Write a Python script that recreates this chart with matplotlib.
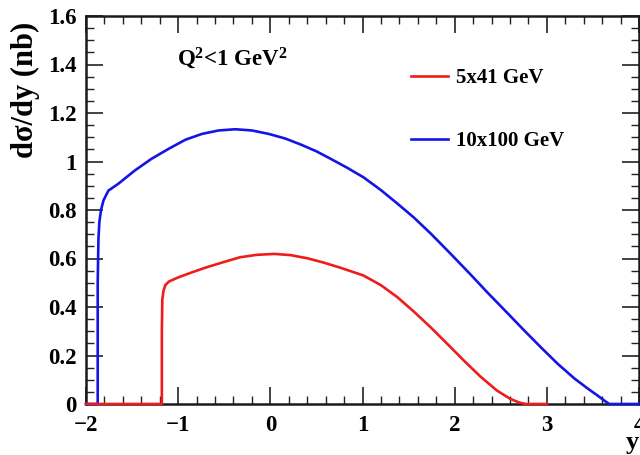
import matplotlib
matplotlib.use("Agg")
import matplotlib.pyplot as plt
from matplotlib.ticker import MultipleLocator

# Rapidity distributions of the photoproduction cross section (Q^2 < 1 GeV^2)
y_5x41 = [-2.0, -1.177, -1.177, -1.172, -1.16, -1.14, -1.1, -1.0, -0.85, -0.69,
          -0.5, -0.33, -0.15, 0.04, 0.22, 0.4, 0.58, 0.76, 1.01, 1.2, 1.38, 1.56,
          1.74, 1.92, 2.1, 2.28, 2.46, 2.6, 2.7, 2.772, 3.0]
xs_5x41 = [0.0, 0.0, 0.30, 0.43, 0.465, 0.49, 0.505, 0.522, 0.543, 0.564,
           0.586, 0.605, 0.615, 0.619, 0.614, 0.601, 0.583, 0.562, 0.53, 0.49,
           0.44, 0.38, 0.316, 0.248, 0.179, 0.113, 0.055, 0.022, 0.006, 0.0, 0.0]

y_10x100 = [-2.0, -1.873, -1.873, -1.865, -1.855, -1.837, -1.81, -1.757, -1.65,
            -1.47, -1.29, -1.1, -0.92, -0.74, -0.56, -0.38, -0.2, -0.02, 0.16,
            0.33, 0.5, 0.65, 0.83, 1.01, 1.2, 1.38, 1.56, 1.74, 1.96, 2.17, 2.36,
            2.57, 2.75, 2.94, 3.12, 3.3, 3.45, 3.55, 3.62, 3.677, 4.0]
xs_10x100 = [0.0, 0.0, 0.5, 0.68, 0.75, 0.80, 0.84, 0.88, 0.908, 0.963, 1.011,
             1.053, 1.09, 1.114, 1.128, 1.133, 1.128, 1.114, 1.095, 1.07, 1.042,
             1.012, 0.975, 0.935, 0.882, 0.826, 0.768, 0.703, 0.618, 0.535, 0.458,
             0.376, 0.305, 0.232, 0.165, 0.105, 0.062, 0.035, 0.015, 0.0, 0.0]

labels = ["5x41 GeV", "10x100 GeV"]
x_ticks = [-2, -1, 0, 1, 2, 3, 4]
y_ticks = [0, 0.2, 0.4, 0.6, 0.8, 1.0, 1.2, 1.4, 1.6]
y_tick_labels = ["0", "0.2", "0.4", "0.6", "0.8", "1", "1.2", "1.4", "1.6"]

plt.rcParams["font.family"] = ["Liberation Serif", "DejaVu Serif"]
plt.rcParams["font.weight"] = "bold"
plt.rcParams["mathtext.fontset"] = "custom"
plt.rcParams["mathtext.rm"] = "Liberation Serif:bold"
plt.rcParams["mathtext.bf"] = "Liberation Serif:bold"
plt.rcParams["mathtext.it"] = "Liberation Serif:bold"

fig = plt.figure(figsize=(6.4, 4.55), dpi=100)
ax = fig.add_axes([86 / 640, 1 - 404 / 455, (639 - 86) / 640, (404 - 16) / 455])

ax.plot(y_10x100, xs_10x100, color="#1414e6", lw=1.9, label=labels[1],
        zorder=3, clip_on=False)
ax.plot(y_5x41, xs_5x41, color="#ee1c1c", lw=1.9, label=labels[0],
        zorder=4, clip_on=False)

ax.set_xlim(-2, 4)
ax.set_ylim(0, 1.6)
ax.set_xticks(x_ticks)
ax.set_yticks(y_ticks)
ax.set_yticklabels(y_tick_labels)
ax.xaxis.set_minor_locator(MultipleLocator(0.2))
ax.yaxis.set_minor_locator(MultipleLocator(0.05))
ax.tick_params(which="both", direction="in", top=True, right=True,
               colors="#222222", labelcolor="black", labelsize=16.5)
ax.tick_params(which="major", length=12, width=1.2)
ax.tick_params(which="minor", length=6, width=1.0)
ax.tick_params(axis="y", pad=7)
ax.tick_params(axis="x", pad=8)
for lab in ax.get_xticklabels() + ax.get_yticklabels():
    lab.set_fontweight("bold")
for sp in ax.spines.values():
    sp.set_linewidth(1.8)
    sp.set_color("#1a1a1a")

fig.text(25 / 640, 1 - 90 / 455, "dσ/dy (nb)", rotation=90, ha="center",
         va="center", fontsize=22, fontweight="bold")
fig.text(0.999, 1 - 454 / 455, "y", ha="right", va="bottom", fontsize=19,
         fontweight="bold")
fig.text(177 / 640, 1 - 65 / 455, "Q$^{2}$<1 GeV$^{2}$", ha="left",
         va="baseline", fontsize=16.5, fontweight="bold")

handles, labs = ax.get_legend_handles_labels()
order = [labs.index(l) for l in labels]
leg = ax.legend([handles[i] for i in order], [labs[i] for i in order],
                loc="upper left", bbox_to_anchor=(411 / 640, 1 - 68 / 455),
                bbox_transform=fig.transFigure, frameon=False, fontsize=15,
                handlelength=1.78, handletextpad=0.4, labelspacing=2.08,
                borderpad=0, borderaxespad=0)
for t in leg.get_texts():
    t.set_fontweight("bold")

fig.savefig("out.png", dpi=100)
